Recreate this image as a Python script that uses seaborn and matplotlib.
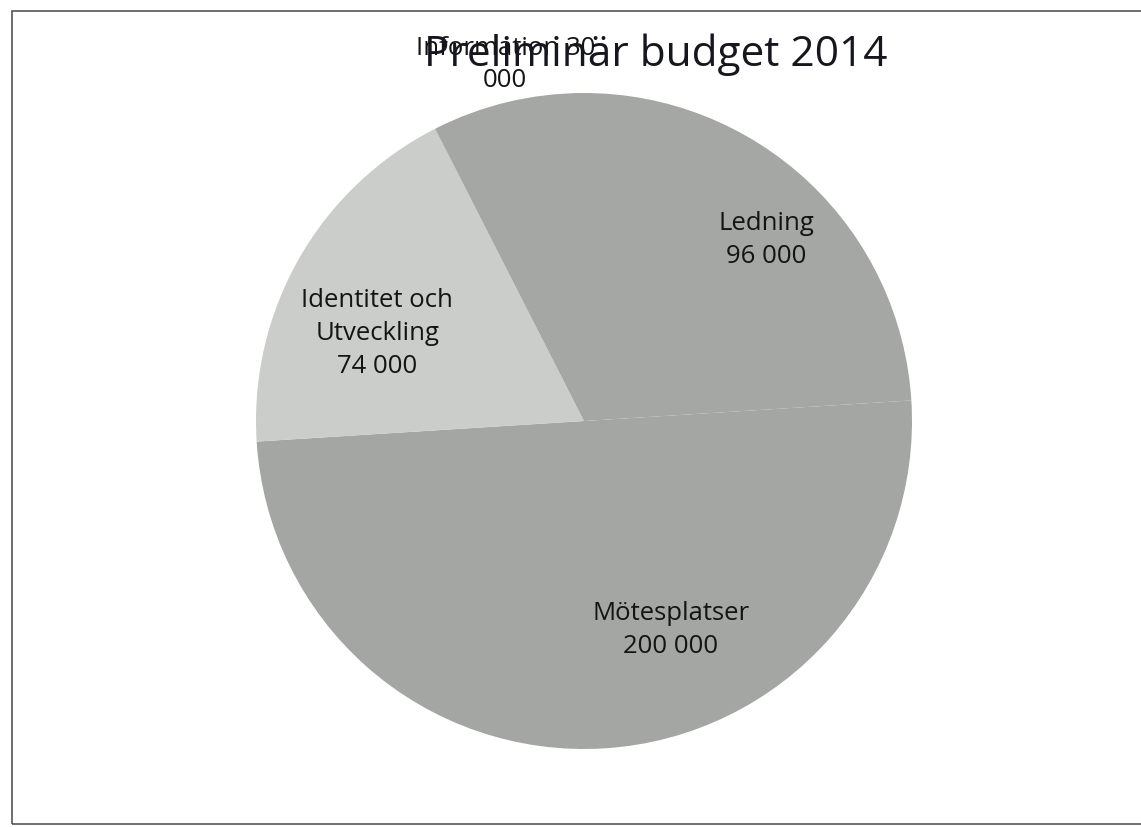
import matplotlib
matplotlib.use("Agg")
import matplotlib.pyplot as plt
import seaborn as sns
from matplotlib.patches import Rectangle

# Data
categories = ["Ledning", "Mötesplatser", "Identitet och\nUtveckling", "Information 30\n000"]
value_labels = ["96 000", "200 000", "74 000", ""]
values = [96000, 200000, 74000, 30000]
title = "Preliminär budget 2014"
colors = ["#a4a7a4", "#a3a6a3", "#cacdca", "#a4a7a4"]

sns.set_theme(style="white")
plt.rcParams["font.family"] = ["Open Sans", "DejaVu Sans"]

W, H = 1141, 828
fig = plt.figure(figsize=(W / 100, H / 100), dpi=100)
fig.patch.set_facecolor("white")
ax = fig.add_axes([0, 0, 1, 1])

cx, cy, R = 584, 422, 328
wedges, texts = ax.pie(values, colors=colors, startangle=90, counterclock=False,
                       labels=[c if v == "" else f"{c}\n{v}" for c, v in zip(categories, value_labels)],
                       labeldistance=0.7,
                       wedgeprops=dict(linewidth=0),
                       textprops=dict(fontsize=18.5, color="#141414", ha="center", va="center",
                                      linespacing=1.4))
# label positions in pie units (radius = 1)
label_pos = [(0.555, 0.555), (0.265, -0.635), (-0.63, 0.27), (-0.24, 1.09)]
for t, p in zip(texts, label_pos):
    t.set_position(p)
    t.set_ha("center")
    t.set_va("center")

ax.set_xlim(-cx / R, (W - cx) / R)
ax.set_ylim(-(H - cy) / R, cy / R)
ax.set_aspect("auto")
ax.axis("off")

fig.text(656 / W, 1 - 55 / H, title, fontsize=30.5, color="#16161e", ha="center", va="center")

fig.patches.append(Rectangle((12 / W, 3 / H), 1.2, (825 - 12) / H, transform=fig.transFigure,
                             fill=False, edgecolor="#555555", linewidth=1.2))

fig.savefig("out.png", dpi=100)
